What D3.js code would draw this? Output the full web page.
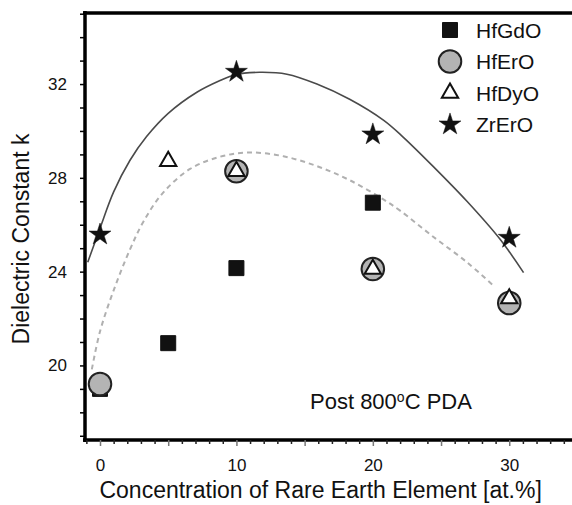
<!DOCTYPE html>
<html>
<head>
<meta charset="utf-8">
<script src="https://cdn.jsdelivr.net/npm/d3@7"></script>
<style>
  html, body { margin: 0; padding: 0; background: #fff; }
  svg { display: block; font-family: "Liberation Sans", Arial, sans-serif; }
</style>
</head>
<body>
<svg id="chart" width="572" height="505"></svg>
<script>
// ---- data ----
const seriesNames = ["HfGdO", "HfErO", "HfDyO", "ZrErO"];

const hfGdO_x = [0, 5, 10, 20];
const hfGdO_k = [19.0, 20.95, 24.15, 26.94];

const hfErO_x = [0, 10, 20, 30];
const hfErO_k = [19.21, 28.28, 24.11, 22.66];

const hfDyO_x = [5, 10, 20, 30];
const hfDyO_k = [28.71, 28.28, 24.11, 22.85];

const zrErO_x = [0, 10, 20, 30];
const zrErO_k = [25.58, 32.52, 29.85, 25.44];

// hand-drawn guide curves (solid and dashed)
const solidFit_x = [-0.9, 0, 1, 2.2, 3.4, 5, 7.1, 8.8, 9.9, 11.7, 13.7, 15.9, 18.3, 20.8, 22.2, 24.4, 26.9, 29.3, 31.05];
const solidFit_k = [24.4, 25.85, 27.4, 28.75, 29.75, 30.75, 31.65, 32.15, 32.4, 32.5, 32.42, 32.0, 31.35, 30.45, 29.75, 28.5, 27.0, 25.4, 23.96];

const dashedFit_x = [-0.6, 0, 1, 2.2, 3.2, 4.6, 6.6, 8.8, 11.0, 13.45, 15.9, 18.3, 20.8, 22.0, 24.4, 26.9, 28.85];
const dashedFit_k = [19.83, 21.45, 23.2, 24.95, 26.15, 27.35, 28.38, 28.9, 29.08, 28.92, 28.5, 27.9, 27.07, 26.6, 25.5, 24.4, 23.4];

const xTickLabels = [0, 10, 20, 30];
const yTickLabels = [20, 24, 28, 32];

const xTitle = "Concentration of Rare Earth Element [at.%]";
const yTitle = "Dielectric Constant k";

// ---- drawing ----
const svg = d3.select("#chart");
const x = d3.scaleLinear().domain([-1.1, 34.6]).range([85, 572]);
const y = d3.scaleLinear().domain([16.82, 35.03]).range([440, 13]);

const zip = (xs, ks) => xs.map((v, i) => ({ x: v, k: ks[i] }));

// guide curves
const line = d3.line().x(d => x(d.x)).y(d => y(d.k)).curve(d3.curveCatmullRom.alpha(0.5));
svg.append("path")
  .attr("d", line(zip(dashedFit_x, dashedFit_k)))
  .attr("fill", "none").attr("stroke", "#b0b0b0").attr("stroke-width", 2)
  .attr("stroke-dasharray", "5,4");
svg.append("path")
  .attr("d", line(zip(solidFit_x, solidFit_k)))
  .attr("fill", "none").attr("stroke", "#4a4a4a").attr("stroke-width", 1.6);

// axes
const yAxis = d3.axisLeft(y)
  .tickValues(d3.range(17, 36, 1))
  .tickSize(5).tickPadding(13)
  .tickFormat(d => yTickLabels.includes(d) ? d : "");
const gy = svg.append("g").attr("transform", `translate(${x.range()[0]},0)`).call(yAxis);
gy.select(".domain").attr("stroke-width", 3.5).attr("d", `M0,${y.range()[1] - 2}V${y.range()[0] + 2}`);
gy.selectAll(".tick line").attr("stroke-width", 1.5);
gy.selectAll("text").attr("font-size", 17).attr("fill", "#111");

const xAxis = d3.axisBottom(x)
  .tickValues(d3.range(-1, 35, 1))
  .tickSize(5).tickPadding(14)
  .tickFormat(d => xTickLabels.includes(d) ? d : "");
const gx = svg.append("g").attr("transform", `translate(0,${y.range()[0]})`).call(xAxis);
gx.select(".domain").attr("stroke-width", 3.5).attr("d", `M${x.range()[0] - 2},0H${x.range()[1]}`);
gx.selectAll(".tick line").attr("stroke-width", 1.5)
  .attr("stroke", d => d % 5 === 0 ? "#777" : "#222")
  .attr("y2", d => d % 5 === 0 ? 6 : 4);
gx.selectAll("text").attr("font-size", 17).attr("fill", "#111");

// top frame line
svg.append("line")
  .attr("x1", x.range()[0] - 2).attr("x2", x.range()[1])
  .attr("y1", y.range()[1]).attr("y2", y.range()[1])
  .attr("stroke", "#000").attr("stroke-width", 3.5);

// titles
svg.append("text")
  .attr("x", (x(0) + x(30)) / 2 + 16).attr("y", 498)
  .attr("text-anchor", "middle").attr("font-size", 23).attr("fill", "#111")
  .text(xTitle);
svg.append("text")
  .attr("transform", `translate(29,${239}) rotate(-90)`)
  .attr("text-anchor", "middle").attr("font-size", 23).attr("fill", "#111")
  .text(yTitle);

// annotation
const ann = svg.append("text").attr("x", 310).attr("y", 409)
  .attr("font-size", 22).attr("fill", "#111");
ann.append("tspan").text("Post 800");
ann.append("tspan").attr("font-size", 14).attr("dy", -7).text("o");
ann.append("tspan").attr("dy", 7).text("C PDA");

// markers
const sym = (type, size) => d3.symbol().type(type).size(size)();
const shapes = {
  HfGdO: { path: sym(d3.symbolSquare, 225), fill: "#111", stroke: "#111", sw: 1 },
  HfErO: { path: sym(d3.symbolCircle, 400), fill: "#b4b4b4", stroke: "#222", sw: 2 },
  HfDyO: { path: sym(d3.symbolTriangle, 115), fill: "#fff", stroke: "#111", sw: 2 },
  ZrErO: { path: sym(d3.symbolStar, 150), fill: "#111", stroke: "#111", sw: 0.5 }
};
const seriesData = {
  HfGdO: zip(hfGdO_x, hfGdO_k),
  HfErO: zip(hfErO_x, hfErO_k),
  HfDyO: zip(hfDyO_x, hfDyO_k),
  ZrErO: zip(zrErO_x, zrErO_k)
};
seriesNames.forEach(name => {
  const s = shapes[name];
  svg.append("g").selectAll("path")
    .data(seriesData[name]).join("path")
    .attr("d", s.path)
    .attr("transform", d => `translate(${x(d.x)},${y(d.k)})`)
    .attr("fill", s.fill).attr("stroke", s.stroke).attr("stroke-width", s.sw);
});

// legend
const legend = svg.append("g").attr("transform", "translate(450,30)");
seriesNames.forEach((name, i) => {
  const s = shapes[name];
  const g = legend.append("g").attr("transform", `translate(0,${i * 31.5})`);
  g.append("path").attr("d", s.path)
    .attr("fill", s.fill).attr("stroke", s.stroke).attr("stroke-width", s.sw);
  g.append("text").attr("x", 26).attr("y", 7.5)
    .attr("font-size", 21).attr("fill", "#111").text(name);
});
</script>
</body>
</html>
